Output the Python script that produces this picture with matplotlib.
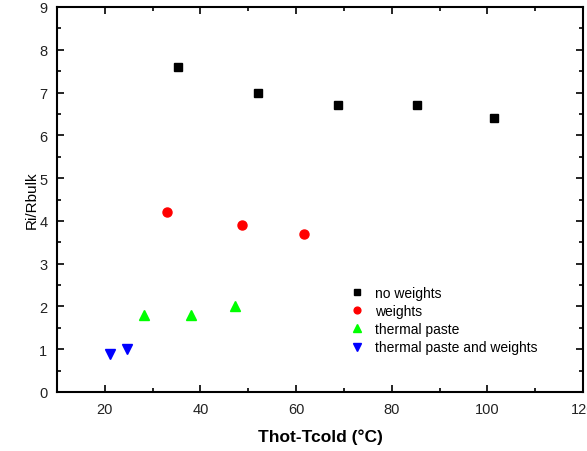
import matplotlib
matplotlib.use("Agg")
import matplotlib.pyplot as plt
from matplotlib.ticker import MultipleLocator

plt.rcParams['font.family'] = ['Liberation Sans', 'DejaVu Sans']

# data
no_w_x = [35.2, 52.1, 68.7, 85.3, 101.4]
no_w_y = [7.6, 7.0, 6.7, 6.7, 6.4]
w_x = [33.1, 48.6, 61.6]
w_y = [4.2, 3.9, 3.7]
paste_x = [28.2, 38.1, 47.3]
paste_y = [1.8, 1.8, 2.0]
paste_w_x = [21.1, 24.7]
paste_w_y = [0.9, 1.0]

fig = plt.figure(figsize=(5.87, 4.52), dpi=100)
ax = fig.add_axes([57 / 587, 59 / 452, 526 / 587, 385 / 452])

ax.plot(no_w_x, no_w_y, 's', color='black', ms=6, label='no weights')
ax.plot(w_x, w_y, 'o', color='red', ms=6.5, label='weights')
ax.plot(paste_x, paste_y, '^', color='#00ff00', ms=7, label='thermal paste')
ax.plot(paste_w_x, paste_w_y, 'v', color='blue', ms=7, label='thermal paste and weights')

ax.set_xlim(10, 120)
ax.set_ylim(0, 9)
ax.xaxis.set_major_locator(MultipleLocator(20))
ax.xaxis.set_minor_locator(MultipleLocator(10))
ax.yaxis.set_major_locator(MultipleLocator(1))
ax.yaxis.set_minor_locator(MultipleLocator(0.5))
ax.tick_params(which='both', direction='in', top=True, right=True, labelsize=10.5,
               width=1.2, labelcolor='#222222')
ax.tick_params(axis='x', pad=7)
ax.tick_params(axis='y', pad=7)
ax.tick_params(which='major', length=5)
ax.tick_params(which='minor', length=3)
for s in ax.spines.values():
    s.set_linewidth(1.5)

ax.set_xlabel('Thot-Tcold (°C)', fontsize=12.5, fontweight='bold', labelpad=9)
ax.set_ylabel('Ri/Rbulk', fontsize=11, labelpad=0)

ax.legend(loc='lower left', bbox_to_anchor=(0.53, 0.065), frameon=False, fontsize=10,
          handletextpad=0.7, labelspacing=0.3, handlelength=1.2, markerscale=0.75)

fig.savefig('out.png', dpi=100)
